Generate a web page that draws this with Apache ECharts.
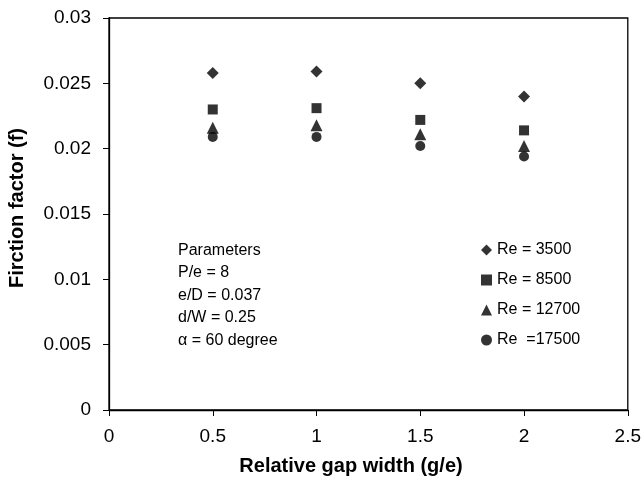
<!DOCTYPE html>
<html>
<head>
<meta charset="utf-8">
<script src="https://cdn.jsdelivr.net/npm/echarts@6/dist/echarts.min.js"></script>
<style>
html,body{margin:0;padding:0;background:#fff;}
#chart{width:644px;height:493px;}
</style>
</head>
<body>
<div id="chart"></div>
<script>
var gapWidth = [0.5, 1, 1.5, 2];
var re3500 = [0.0258, 0.0259, 0.0250, 0.0240];
var re8500 = [0.0230, 0.0231, 0.0222, 0.0214];
var re12700 = [0.0216, 0.0218, 0.0211, 0.0202];
var re17500 = [0.0209, 0.0209, 0.0202, 0.0194];
var seriesNames = ['Re = 3500', 'Re = 8500', 'Re = 12700', 'Re  =17500'];
var seriesSymbols = ['diamond', 'rect', 'triangle', 'circle'];
var seriesSizes = [12, 10, 12, 10];
var paramLines = ['Parameters', 'P/e = 8', 'e/D = 0.037', 'd/W = 0.25', '\u03b1 = 60 degree'];
var xTitle = 'Relative gap width (g/e)';
var yTitle = 'Firction factor (f)';

var allData = [re3500, re8500, re12700, re17500];
var font = '"Liberation Sans", Arial, sans-serif';

var series = allData.map(function (vals, i) {
  return {
    name: seriesNames[i],
    type: 'scatter',
    symbol: seriesSymbols[i],
    symbolSize: seriesSizes[i],
    itemStyle: { color: '#000' },
    data: gapWidth.map(function (x, j) { return [x, vals[j]]; })
  };
});

var chart = echarts.init(document.getElementById('chart'));
chart.setOption({
  animation: false,
  backgroundColor: '#fff',
  grid: { left: 109, right: 15, top: 18, bottom: 83, show: true, borderColor: '#000', borderWidth: 1.3 },
  xAxis: {
    type: 'value', min: 0, max: 2.5, interval: 0.5,
    axisLine: { show: true, lineStyle: { color: '#000', width: 1.3 } },
    axisTick: { show: true, inside: false, length: 6, lineStyle: { color: '#000' } },
    splitLine: { show: false },
    axisLabel: { color: '#000', fontSize: 19, fontFamily: font, margin: 17,
      formatter: function (v) { return String(parseFloat(v.toFixed(2))); } }
  },
  yAxis: {
    type: 'value', min: 0, max: 0.03, interval: 0.005,
    axisLine: { show: true, lineStyle: { color: '#000', width: 1.3 } },
    axisTick: { show: true, inside: false, length: 6, lineStyle: { color: '#000' } },
    splitLine: { show: false },
    axisLabel: { color: '#000', fontSize: 19, fontFamily: font, margin: 18,
      formatter: function (v) { return String(parseFloat(v.toFixed(3))); } }
  },
  legend: {
    orient: 'vertical', left: 476, top: 237,
    itemWidth: 11, itemHeight: 11, itemGap: 14,
    textStyle: { color: '#000', fontSize: 16, fontFamily: font, padding: [0, 0, 0, 0] },
    data: seriesNames.map(function (n, i) { return { name: n, icon: seriesSymbols[i] }; })
  },
  graphic: [
    { type: 'text', left: 178, top: 239,
      style: { text: paramLines.join('\n'), fill: '#000', font: '16px ' + font, lineHeight: 22.5 } },
    { type: 'text', x: 351, y: 466,
      style: { text: xTitle, fill: '#000', font: 'bold 20px ' + font, align: 'center', verticalAlign: 'middle' } },
    { type: 'text', x: 17, y: 208, rotation: Math.PI / 2,
      style: { text: yTitle, fill: '#000', font: 'bold 20px ' + font, align: 'center', verticalAlign: 'middle' } }
  ],
  series: series
});
</script>
</body>
</html>
